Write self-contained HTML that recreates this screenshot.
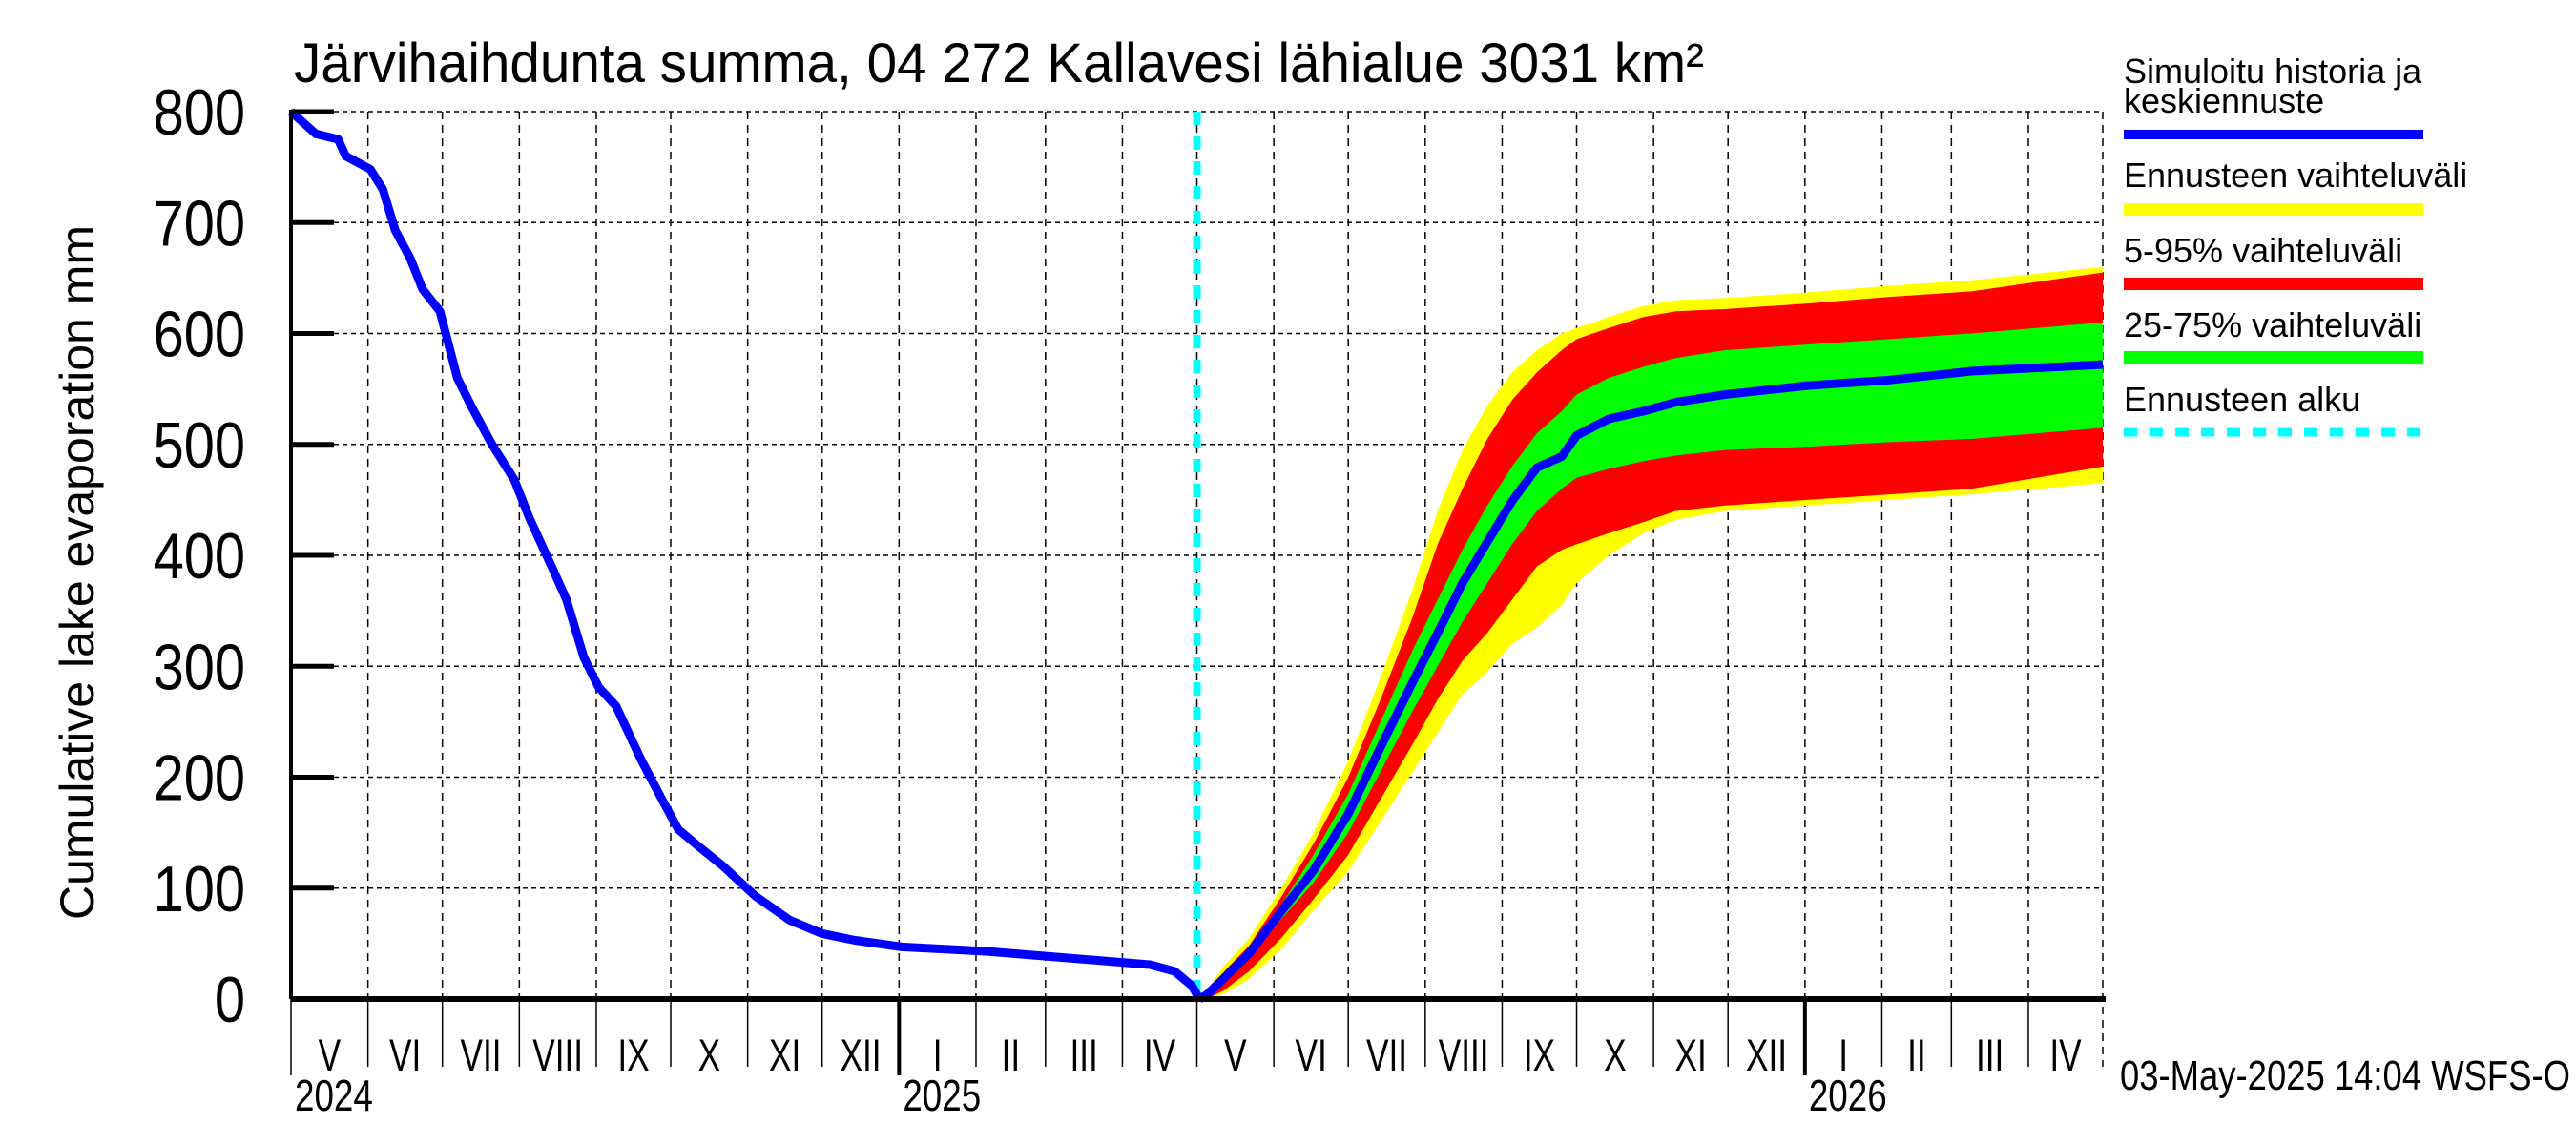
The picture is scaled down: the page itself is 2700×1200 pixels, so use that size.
<!DOCTYPE html>
<html><head><meta charset="utf-8"><style>
html,body{margin:0;padding:0;background:#fff;}
svg{display:block;font-family:"Liberation Sans",sans-serif;}
</style></head><body>
<svg id="chart" width="2700" height="1200" viewBox="0 0 2700 1200" xmlns="http://www.w3.org/2000/svg">
<rect width="2700" height="1200" fill="#fff"/>
<text x="308" y="86" font-size="58" textLength="1478" lengthAdjust="spacingAndGlyphs">Järvihaihdunta summa, 04 272 Kallavesi lähialue 3031 km²</text>
<text transform="translate(98,600) rotate(-90)" text-anchor="middle" font-size="50">Cumulative lake evaporation   mm</text>
<g id="grid"></g><g id="bands"></g><g id="lines"></g><g id="axes"></g>
<g>
<text x="2226" y="87" font-size="36">Simuloitu historia ja</text>
<text x="2226" y="118" font-size="36">keskiennuste</text>
<rect x="2226" y="136" width="314" height="10" fill="#0000ff"/>
<text x="2226" y="196" font-size="36">Ennusteen vaihteluväli</text>
<rect x="2226" y="213" width="314" height="13" fill="#ffff00"/>
<text x="2226" y="275" font-size="36">5-95% vaihteluväli</text>
<rect x="2226" y="291" width="314" height="13" fill="#ff0000"/>
<text x="2226" y="353" font-size="36">25-75% vaihteluväli</text>
<rect x="2226" y="368" width="314" height="14" fill="#00ff00"/>
<text x="2226" y="431" font-size="36">Ennusteen alku</text>
<line x1="2226" y1="453" x2="2540" y2="453" stroke="#00ffff" stroke-width="9" stroke-dasharray="14,13"/>
</g>
<text x="2222" y="1142" font-size="44" textLength="472" lengthAdjust="spacingAndGlyphs">03-May-2025 14:04 WSFS-O</text>
</svg>
<script>
const yTicks=[0,100,200,300,400,500,600,700,800];
const monthLabels=["V","VI","VII","VIII","IX","X","XI","XII","I","II","III","IV","V","VI","VII","VIII","IX","X","XI","XII","I","II","III","IV"];
const monthDays=[31,30,31,31,30,31,30,31,31,28,31,30,31,30,31,31,30,31,30,31,31,28,31,30];
const yearLabels=["2024","2025","2026"];
const yearStartMonth=[0,8,20];
const histDays=[0,5,10,19,22,32,37,42,48,53,60,67,73,81,90,96,105,111,118,124,131,141,149,156,164,174,187,201,214,227,246,280,313,346,356,363,366];
const histVals=[800,790,780,775,760,748,730,693,668,640,620,560,533,500,468,434,390,360,308,281,264,216,182,153,138,120,93,71,59,53,47,43,37,31,25,12,0];
const fcDays=[366,369,376,386,399,412,426,439,452,462,472,482,492,502,512,518,531,545,558,578,611,644,677,730];
const fcMedian=[0,4,19,41,79,116,167,227,286,330,375,412,449,479,489,508,523,530,538,545,553,558,566,572];
const fcMax=[0,8,30,55,100,150,215,290,370,440,495,535,565,585,600,605,615,625,630,632,637,643,648,660];
const fcP95=[0,5,25,48,92,140,200,270,345,410,460,505,540,565,585,595,605,615,620,622,627,633,638,655];
const fcP75=[0,4,22,45,85,130,185,250,315,360,405,445,480,510,530,545,560,570,578,585,590,595,600,610];
const fcP25=[0,3,16,36,72,105,150,205,260,300,340,375,410,440,460,470,478,485,490,495,498,502,505,515];
const fcP5=[0,0,8,25,55,90,130,180,230,270,305,330,360,390,405,410,420,430,440,445,450,455,460,480];
const fcMin=[0,0,5,18,45,80,115,160,205,240,275,295,320,335,355,375,400,420,432,440,445,450,455,465];
const forecastStartDay=365;

const X0=305,X1=2204,Y0=1047,Y1=117,TOTAL=730;
const xs=d=>X0+(X1-X0)*d/TOTAL;
const ys=v=>Y0-(Y0-Y1)*v/800;
const NS="http://www.w3.org/2000/svg";
function mk(tag,attrs,parent){const e=document.createElementNS(NS,tag);for(const k in attrs)e.setAttribute(k,attrs[k]);parent.appendChild(e);return e;}
const grid=document.getElementById('grid'),bands=document.getElementById('bands'),lines=document.getElementById('lines'),axes=document.getElementById('axes');

yTicks.forEach(v=>{
  if(v>0){const g=mk('line',{x1:X0,x2:X1,y1:ys(v),y2:ys(v),stroke:'#000','stroke-width':1.5,'stroke-dasharray':'5,4'},grid);
  
  }
  const t=mk('line',{x1:X0,x2:X0+45,y1:ys(v),y2:ys(v),stroke:'#000','stroke-width':5},axes);
  
  
  const l=mk('text',{transform:`translate(${X0-48},${ys(v)+24}) scale(0.85,1)`,'text-anchor':'end','font-size':68},axes);
  
  
  l.textContent=v;
});
let cum=0;
monthDays.forEach((md,i)=>{
  const xa=xs(cum),xb=xs(cum+md);
  const isYear=yearStartMonth.includes(i);
  if(i>0){const g=mk('line',{x1:xa,x2:xa,y1:Y1,y2:Y0,stroke:'#000','stroke-width':1.5,'stroke-dasharray':'8,6'},grid);
  
  }
  const t=mk('line',{x1:xa,x2:xa,y1:Y0,y2:isYear?1127:1118,stroke:'#000','stroke-width':isYear&&i>0?4:1.5},axes);
  
  
  const l=mk('text',{transform:`translate(${(xa+xb)/2},1122) scale(0.75,1)`,'text-anchor':'middle','font-size':47},axes);
  
  
  l.textContent=monthLabels[i];
  cum+=md;
});
const ge=mk('line',{x1:X1,x2:X1,y1:Y1,y2:1118,stroke:'#000','stroke-width':1.5,'stroke-dasharray':'8,6'},grid);


yearLabels.forEach((y,i)=>{
  let d=0;for(let k=0;k<yearStartMonth[i];k++)d+=monthDays[k];
  const l=mk('text',{transform:`translate(${xs(d)+4},1164) scale(0.8,1)`,'font-size':46},axes);
  
  
  l.textContent=y;
});
function band(lo,hi,color,name){
  let p=fcDays.map((d,i)=>xs(d)+','+ys(hi[i])).join(' ')+' '+fcDays.map((d,i)=>xs(d)+','+ys(lo[i])).reverse().join(' ');
  const e=mk('polygon',{points:p,fill:color},bands);
  
  
}
band(fcMin,fcMax,'#ffff00','band-min-max');
band(fcP5,fcP95,'#ff0000','band-p5-p95');
band(fcP25,fcP75,'#00ff00','band-p25-p75');
const cy=mk('line',{x1:xs(forecastStartDay),x2:xs(forecastStartDay),y1:Y1,y2:Y0,stroke:'#00ffff','stroke-width':8,'stroke-dasharray':'14,12'},lines);


const h=mk('polyline',{points:histDays.map((d,i)=>xs(d)+','+ys(histVals[i])).join(' '),fill:'none',stroke:'#0000ff','stroke-width':9,'stroke-linejoin':'round'},lines);


const m=mk('polyline',{points:fcDays.map((d,i)=>xs(d)+','+ys(fcMedian[i])).join(' '),fill:'none',stroke:'#0000ff','stroke-width':9,'stroke-linejoin':'round'},lines);


const ya=mk('line',{x1:X0,x2:X0,y1:Y1-2,y2:Y0,stroke:'#000','stroke-width':4},axes);


const xa=mk('line',{x1:X0,x2:X1+3,y1:Y0,y2:Y0,stroke:'#000','stroke-width':6},axes);


</script>
</body></html>
